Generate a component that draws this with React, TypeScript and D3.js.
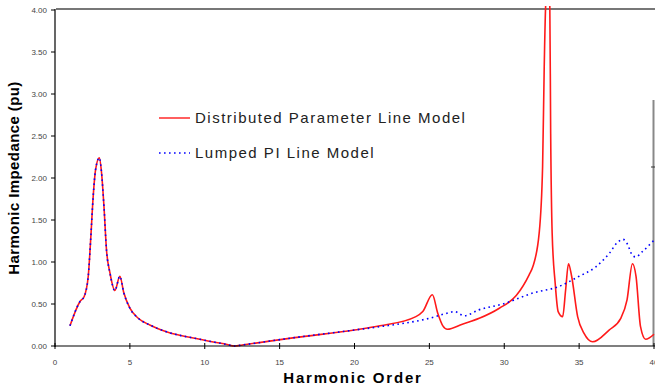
import * as d3 from "d3";
import React, { useEffect, useRef } from "react";

// harmonic order / impedance (pu)
const distH = [1, 1.67, 1.95, 2.22, 2.38, 2.55, 2.71, 2.96, 3.11, 3.27, 3.44, 3.67, 4.0, 4.33, 4.6, 5.0, 5.56, 6.33, 7.44, 9.67, 11.5, 12, 12.5, 16, 20, 21.7, 24.1, 24.56, 25.2, 25.56, 25.9, 26.2, 27.2, 28.33, 29.67, 30.8, 31.67, 31.9, 32.33, 32.56, 32.67, 32.78, 32.9, 33.04, 33.1, 33.2, 33.4, 33.6, 33.9, 34.1, 34.29, 34.5, 34.9, 35.33, 35.9, 37, 37.78, 38.2, 38.56, 38.8, 39.1, 39.44, 40];
const distZ = [0.24, 0.53, 0.59, 0.83, 1.26, 1.78, 2.1, 2.24, 2.06, 1.66, 1.14, 0.87, 0.66, 0.83, 0.63, 0.45, 0.33, 0.25, 0.17, 0.08, 0.017, 0.0, 0.012, 0.1, 0.19, 0.24, 0.35, 0.41, 0.61, 0.39, 0.24, 0.2, 0.26, 0.33, 0.45, 0.6, 0.85, 0.94, 1.34, 2.13, 3.33, 4.1, 4.2, 4.1, 2.53, 1.34, 0.75, 0.41, 0.35, 0.67, 0.98, 0.83, 0.35, 0.15, 0.05, 0.19, 0.33, 0.55, 0.98, 0.83, 0.23, 0.08, 0.14];

const lumpH = [1, 1.67, 1.95, 2.22, 2.38, 2.55, 2.71, 2.96, 3.11, 3.27, 3.44, 3.67, 4.0, 4.33, 4.6, 5.0, 5.56, 6.33, 7.44, 9.67, 11.5, 12, 12.5, 16, 20, 21.7, 25, 26.4, 26.67, 27.33, 28.3, 29.9, 31.9, 33.67, 35, 36.1, 37, 37.6, 37.93, 38.2, 38.56, 38.78, 39.2, 40];
const lumpZ = [0.24, 0.53, 0.59, 0.83, 1.26, 1.78, 2.1, 2.24, 2.06, 1.66, 1.14, 0.87, 0.66, 0.83, 0.63, 0.45, 0.33, 0.25, 0.17, 0.08, 0.017, 0.0, 0.012, 0.1, 0.19, 0.23, 0.33, 0.4, 0.41, 0.36, 0.43, 0.5, 0.63, 0.71, 0.83, 0.94, 1.1, 1.24, 1.27, 1.22, 1.08, 1.06, 1.12, 1.26];

const xTicks = [0, 5, 10, 15, 20, 25, 30, 35, 40];
const yTicks = [0, 0.5, 1, 1.5, 2, 2.5, 3, 3.5, 4];

const App = () => {
  const svgRef = useRef(null);

  useEffect(() => {
    const svg = d3.select(svgRef.current);
    svg.selectAll("*").remove();

    const x = d3.scaleLinear().domain([0, 40]).range([55, 654]);
    const y = d3.scaleLinear().domain([0, 4]).range([346, 10]);
    const font = "Liberation Sans, Arial, sans-serif";

    // frame pieces
    svg.append("line").attr("x1", 56).attr("x2", 655).attr("y1", 9).attr("y2", 9)
      .attr("stroke", "#777").attr("stroke-width", 2);
    svg.append("line").attr("x1", 653.5).attr("x2", 653.5).attr("y1", 100).attr("y2", 346)
      .attr("stroke", "#888").attr("stroke-width", 2);
    svg.append("line").attr("x1", 651).attr("x2", 655).attr("y1", 167).attr("y2", 167)
      .attr("stroke", "#333");

    svg.append("defs").append("clipPath").attr("id", "clip")
      .append("rect").attr("x", 55).attr("y", 6).attr("width", 600).attr("height", 342);

    const line = d3.line()
      .x((d) => x(d[0]))
      .y((d) => y(d[1]))
      .curve(d3.curveMonotoneX);

    const g = svg.append("g").attr("clip-path", "url(#clip)");
    g.append("path")
      .attr("d", line(distH.map((h, i) => [h, distZ[i]])))
      .attr("fill", "none").attr("stroke", "#ff1a1a").attr("stroke-width", 1.6);
    g.append("path")
      .attr("d", line(lumpH.map((h, i) => [h, lumpZ[i]])))
      .attr("fill", "none").attr("stroke", "#0000ff").attr("stroke-width", 1.6)
      .attr("stroke-dasharray", "1.6,3.4");

    // y axis
    svg.append("line").attr("x1", 55).attr("x2", 55).attr("y1", 9).attr("y2", 347)
      .attr("stroke", "#000").attr("stroke-width", 1.2);
    yTicks.forEach((t) => {
      svg.append("line").attr("x1", 51).attr("x2", 55).attr("y1", y(t)).attr("y2", y(t))
        .attr("stroke", "#000");
      svg.append("text").attr("x", 47).attr("y", y(t)).attr("dy", "0.35em")
        .attr("text-anchor", "end").attr("font-size", 8).attr("fill", "#444")
        .attr("font-family", font)
        .text(d3.format(".2f")(t));
    });

    // x axis
    svg.append("line").attr("x1", 55).attr("x2", 655).attr("y1", 346).attr("y2", 346)
      .attr("stroke", "#000").attr("stroke-width", 1.2);
    xTicks.forEach((t) => {
      svg.append("line").attr("x1", x(t)).attr("x2", x(t)).attr("y1", 343).attr("y2", 349)
        .attr("stroke", "#000");
      svg.append("text").attr("x", x(t)).attr("y", 362).attr("dy", "0.35em")
        .attr("text-anchor", "middle").attr("font-size", 8).attr("fill", "#444")
        .attr("font-family", font)
        .text(t);
    });

    // titles
    svg.append("text")
      .attr("transform", "translate(19,178) rotate(-90)")
      .attr("text-anchor", "middle").attr("font-size", 15).attr("font-weight", "bold")
      .attr("letter-spacing", 0.4)
      .attr("font-family", font)
      .text("Harmonic Impedance (pu)");
    svg.append("text")
      .attr("x", 353).attr("y", 383)
      .attr("text-anchor", "middle").attr("font-size", 15).attr("font-weight", "bold")
      .attr("letter-spacing", 1.8)
      .attr("font-family", font)
      .text("Harmonic Order");

    // legend
    const legend = [
      { label: "Distributed Parameter Line Model", color: "#ff1a1a", dash: null, yy: 118 },
      { label: "Lumped PI Line Model", color: "#0000ff", dash: "1.6,3.4", yy: 153 },
    ];
    legend.forEach((l) => {
      svg.append("line").attr("x1", 159).attr("x2", 190).attr("y1", l.yy).attr("y2", l.yy)
        .attr("stroke", l.color).attr("stroke-width", 1.4)
        .attr("stroke-dasharray", l.dash);
      svg.append("text").attr("x", 195).attr("y", l.yy).attr("dy", "0.35em")
        .attr("font-size", 15).attr("fill", "#222").attr("letter-spacing", 1.5)
        .attr("font-family", font)
        .text(l.label);
    });
  }, []);

  return (
    <svg
      ref={svgRef}
      width="655"
      height="385"
      style={{ position: "absolute", left: 0, top: 0, background: "#fff" }}
    ></svg>
  );
};

export default App;
